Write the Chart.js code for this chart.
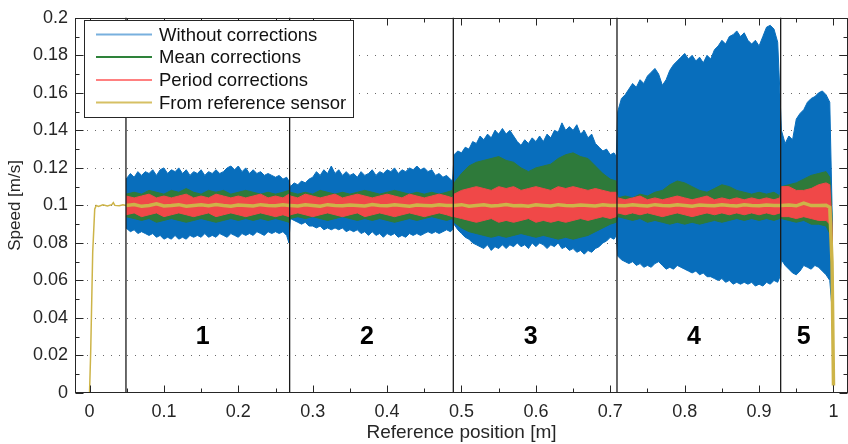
<!DOCTYPE html>
<html><head><meta charset="utf-8">
<script src="https://cdn.jsdelivr.net/npm/chart.js@4.4.1/dist/chart.umd.min.js"></script>
<style>html,body{margin:0;padding:0;background:#fff}canvas{display:block}</style>
</head><body>
<canvas id="c" width="848" height="444"></canvas>
<script>
// ---------- data ----------
// "Without corrections" envelope (upper / lower), sampled along the reference position
const blueX = [
  0.049,0.055,0.06,0.065,0.07,0.075,0.08,0.085,0.09,0.095,0.1,0.105,0.11,0.115,0.12,0.125,0.13,0.135,0.14,0.145,0.15,0.155,0.16,0.165,0.17,0.175,0.18,0.185,0.19,0.195,0.2,0.205,0.21,0.215,0.22,0.225,0.23,0.235,0.24,0.245,0.25,0.255,0.26,0.265,0.268,
  0.27,0.275,0.28,0.285,0.29,0.295,0.3,0.305,0.31,0.315,0.32,0.325,0.33,0.335,0.34,0.345,0.35,0.355,0.36,0.365,0.37,0.375,0.38,0.385,0.39,0.395,0.4,0.405,0.41,0.415,0.42,0.425,0.43,0.435,0.44,0.445,0.45,0.455,0.46,0.465,0.47,0.475,0.48,0.485,0.488,
  0.49,0.495,0.5,0.505,0.51,0.515,0.52,0.525,0.53,0.535,0.54,0.545,0.55,0.555,0.56,0.565,0.57,0.575,0.58,0.585,0.59,0.595,0.6,0.605,0.61,0.615,0.62,0.625,0.63,0.635,0.64,0.645,0.65,0.655,0.66,0.665,0.67,0.675,0.68,0.685,0.69,0.695,0.7,0.705,0.708,
  0.71,0.715,0.72,0.725,0.73,0.735,0.74,0.745,0.75,0.755,0.76,0.765,0.77,0.775,0.78,0.785,0.79,0.795,0.8,0.805,0.81,0.815,0.82,0.825,0.83,0.835,0.84,0.845,0.85,0.855,0.86,0.865,0.87,0.875,0.88,0.885,0.89,0.895,0.9,0.905,0.91,0.915,0.92,0.925,0.928,
  0.93,0.935,0.94,0.945,0.95,0.955,0.96,0.965,0.97,0.975,0.98,0.985,0.99,0.995,0.998,1.0
];
const blueHigh = [
  0.114,0.117,0.115,0.118,0.116,0.118,0.117,0.119,0.116,0.119,0.120,0.117,0.119,0.118,0.120,0.117,0.119,0.116,0.118,0.117,0.119,0.116,0.118,0.117,0.119,0.117,0.118,0.120,0.121,0.119,0.121,0.118,0.120,0.117,0.119,0.117,0.118,0.116,0.117,0.116,0.115,0.116,0.114,0.115,0.113,
  0.110,0.112,0.111,0.113,0.112,0.114,0.115,0.118,0.116,0.119,0.117,0.121,0.117,0.119,0.116,0.118,0.116,0.117,0.115,0.118,0.116,0.117,0.119,0.116,0.118,0.117,0.119,0.118,0.120,0.117,0.119,0.118,0.120,0.119,0.121,0.119,0.120,0.118,0.119,0.116,0.117,0.115,0.116,0.114,0.113,
  0.127,0.129,0.128,0.131,0.130,0.134,0.133,0.137,0.135,0.138,0.136,0.140,0.138,0.141,0.138,0.140,0.137,0.134,0.132,0.135,0.133,0.136,0.134,0.137,0.134,0.138,0.136,0.140,0.139,0.144,0.140,0.142,0.140,0.143,0.138,0.140,0.136,0.138,0.133,0.131,0.129,0.130,0.127,0.128,0.126,
  0.150,0.157,0.159,0.162,0.165,0.163,0.167,0.165,0.169,0.171,0.173,0.170,0.164,0.167,0.172,0.175,0.177,0.179,0.181,0.178,0.180,0.177,0.179,0.176,0.180,0.178,0.183,0.185,0.188,0.186,0.190,0.191,0.193,0.190,0.192,0.188,0.186,0.188,0.185,0.190,0.195,0.196,0.194,0.187,0.160,
  0.140,0.133,0.137,0.135,0.146,0.149,0.151,0.155,0.157,0.158,0.160,0.161,0.159,0.155,0.100,0.010
];
const blueLow = [
  0.088,0.086,0.087,0.085,0.086,0.085,0.084,0.085,0.083,0.084,0.082,0.083,0.082,0.084,0.082,0.083,0.082,0.084,0.083,0.084,0.083,0.085,0.083,0.084,0.083,0.085,0.084,0.083,0.085,0.084,0.083,0.085,0.084,0.085,0.084,0.086,0.085,0.084,0.086,0.085,0.086,0.085,0.086,0.084,0.080,
  0.093,0.092,0.091,0.090,0.091,0.089,0.089,0.088,0.089,0.087,0.088,0.087,0.088,0.087,0.088,0.086,0.087,0.086,0.087,0.085,0.086,0.084,0.086,0.084,0.085,0.083,0.085,0.084,0.085,0.083,0.084,0.083,0.085,0.084,0.085,0.084,0.085,0.086,0.085,0.086,0.085,0.086,0.087,0.086,0.087,
  0.090,0.087,0.085,0.083,0.082,0.080,0.079,0.078,0.077,0.079,0.076,0.078,0.077,0.079,0.077,0.079,0.078,0.080,0.078,0.079,0.077,0.080,0.078,0.080,0.079,0.077,0.079,0.078,0.080,0.077,0.078,0.076,0.077,0.075,0.076,0.074,0.076,0.075,0.077,0.078,0.080,0.081,0.083,0.082,0.084,
  0.073,0.071,0.070,0.069,0.070,0.068,0.069,0.067,0.068,0.067,0.069,0.070,0.068,0.066,0.067,0.066,0.068,0.067,0.066,0.065,0.064,0.065,0.063,0.064,0.062,0.062,0.061,0.060,0.061,0.059,0.060,0.058,0.059,0.058,0.059,0.058,0.059,0.057,0.058,0.057,0.059,0.058,0.060,0.059,0.062,
  0.071,0.068,0.066,0.064,0.063,0.065,0.068,0.067,0.066,0.068,0.067,0.065,0.063,0.060,0.045,0.003
];

// Mean / period corrections and reference sensor, sampled every 0.01 m
const coreX = [
  0.049,0.06,0.07,0.08,0.09,0.1,0.11,0.12,0.13,0.14,0.15,0.16,0.17,0.18,0.19,0.2,0.21,0.22,0.23,0.24,0.25,0.26,0.268,
  0.27,0.28,0.29,0.3,0.31,0.32,0.33,0.34,0.35,0.36,0.37,0.38,0.39,0.4,0.41,0.42,0.43,0.44,0.45,0.46,0.47,0.48,0.488,
  0.49,0.5,0.51,0.52,0.53,0.54,0.55,0.56,0.57,0.58,0.59,0.6,0.61,0.62,0.63,0.64,0.65,0.66,0.67,0.68,0.69,0.7,0.708,
  0.71,0.72,0.73,0.74,0.75,0.76,0.77,0.78,0.79,0.8,0.81,0.82,0.83,0.84,0.85,0.86,0.87,0.88,0.89,0.9,0.91,0.92,0.928,
  0.93,0.94,0.95,0.96,0.97,0.98,0.99,0.995,0.998,1.0
];
const greenHigh = [
  0.106,0.107,0.106,0.108,0.107,0.106,0.108,0.107,0.109,0.107,0.106,0.108,0.107,0.108,0.106,0.107,0.108,0.107,0.106,0.107,0.106,0.107,0.108,
  0.107,0.106,0.107,0.106,0.108,0.107,0.106,0.107,0.106,0.107,0.108,0.107,0.106,0.107,0.108,0.107,0.106,0.107,0.106,0.107,0.106,0.107,0.108,
  0.112,0.117,0.121,0.123,0.124,0.125,0.126,0.124,0.123,0.120,0.118,0.120,0.121,0.122,0.125,0.127,0.128,0.126,0.125,0.121,0.117,0.114,0.113,
  0.104,0.105,0.104,0.106,0.105,0.107,0.108,0.111,0.113,0.112,0.110,0.108,0.107,0.109,0.111,0.110,0.108,0.107,0.106,0.107,0.106,0.107,0.105,
  0.110,0.111,0.112,0.114,0.116,0.117,0.118,0.115,0.095,0.010
];
const greenLow = [
  0.094,0.093,0.092,0.093,0.091,0.092,0.093,0.092,0.091,0.092,0.093,0.092,0.091,0.092,0.093,0.092,0.093,0.092,0.093,0.092,0.093,0.092,0.091,
  0.093,0.094,0.093,0.094,0.093,0.092,0.093,0.094,0.093,0.092,0.093,0.092,0.093,0.092,0.091,0.092,0.093,0.092,0.093,0.094,0.093,0.092,0.093,
  0.091,0.088,0.086,0.085,0.084,0.083,0.084,0.083,0.084,0.085,0.084,0.083,0.084,0.083,0.082,0.083,0.082,0.083,0.084,0.086,0.088,0.090,0.091,
  0.094,0.093,0.092,0.093,0.091,0.092,0.091,0.090,0.091,0.090,0.091,0.090,0.091,0.092,0.091,0.092,0.093,0.092,0.093,0.092,0.093,0.092,0.093,
  0.093,0.092,0.091,0.092,0.090,0.090,0.089,0.085,0.060,0.004
];
const redHigh = [
  0.105,0.104,0.105,0.106,0.104,0.105,0.104,0.105,0.106,0.104,0.105,0.104,0.106,0.105,0.104,0.105,0.104,0.105,0.106,0.104,0.105,0.104,0.106,
  0.105,0.104,0.106,0.105,0.104,0.105,0.106,0.104,0.105,0.106,0.105,0.104,0.105,0.106,0.105,0.104,0.106,0.105,0.104,0.105,0.106,0.105,0.104,
  0.106,0.108,0.109,0.110,0.109,0.108,0.110,0.109,0.110,0.108,0.109,0.110,0.109,0.108,0.110,0.109,0.110,0.109,0.108,0.109,0.108,0.107,0.107,
  0.104,0.103,0.104,0.105,0.103,0.104,0.103,0.104,0.105,0.104,0.103,0.104,0.105,0.103,0.104,0.103,0.104,0.103,0.104,0.103,0.104,0.103,0.104,
  0.110,0.110,0.108,0.108,0.109,0.111,0.112,0.111,0.090,0.008
];
const redLow = [
  0.095,0.096,0.094,0.095,0.096,0.094,0.095,0.096,0.095,0.094,0.095,0.096,0.094,0.095,0.096,0.095,0.094,0.095,0.096,0.095,0.094,0.095,0.094,
  0.095,0.096,0.095,0.094,0.095,0.096,0.095,0.094,0.095,0.096,0.094,0.095,0.096,0.095,0.094,0.095,0.096,0.095,0.094,0.095,0.096,0.095,0.094,
  0.094,0.093,0.092,0.091,0.092,0.093,0.091,0.092,0.091,0.092,0.093,0.091,0.092,0.091,0.092,0.091,0.092,0.093,0.092,0.093,0.094,0.093,0.094,
  0.096,0.095,0.096,0.095,0.096,0.095,0.094,0.095,0.096,0.095,0.094,0.095,0.096,0.095,0.096,0.095,0.096,0.095,0.096,0.095,0.096,0.095,0.096,
  0.094,0.094,0.093,0.094,0.093,0.092,0.092,0.090,0.065,0.004
];
const refY = [
  0.1,0.1005,0.0995,0.1,0.1008,0.0997,0.1,0.1004,0.0996,0.1,0.1003,0.0998,0.1005,0.1,0.0996,0.1002,0.1,0.0997,0.1004,0.1,0.0998,0.1003,0.1,
  0.1,0.0997,0.1003,0.1,0.0996,0.1004,0.1,0.0998,0.1002,0.1,0.0997,0.1005,0.1,0.0998,0.1003,0.1,0.0996,0.1002,0.1,0.0998,0.1004,0.1,0.0999,
  0.1,0.1004,0.0996,0.1,0.1003,0.0997,0.1,0.1005,0.0998,0.1,0.0996,0.1003,0.1,0.0997,0.1004,0.1,0.0998,0.1002,0.1,0.0997,0.1003,0.1,0.1,
  0.1,0.0998,0.1003,0.1,0.0997,0.1004,0.1,0.0998,0.1003,0.1,0.0996,0.1002,0.1,0.0998,0.1004,0.1,0.0997,0.1003,0.1,0.0998,0.1002,0.1,0.1,
  0.1,0.1002,0.0998,0.1012,0.0999,0.1,0.1001,0.099,0.07,0.004
];
// reference sensor during the start-up (before section 1)
const startX = [0,0.0016,0.0043,0.007,0.009,0.012,0.018,0.024,0.03,0.032,0.034,0.04,0.045,0.049];
const startY = [0,0.022,0.075,0.098,0.1,0.0995,0.1003,0.0997,0.1004,0.1015,0.1,0.0998,0.1003,0.1];

// axes, sections, legend
const xTicks = [0,0.1,0.2,0.3,0.4,0.5,0.6,0.7,0.8,0.9,1];
const xMinorTicks = [0.05,0.15,0.25,0.35,0.45,0.55,0.65,0.75,0.85,0.95];
const yTicks = [0,0.02,0.04,0.06,0.08,0.1,0.12,0.14,0.16,0.18,0.2];
const yMinorTicks = [0.01,0.03,0.05,0.07,0.09,0.11,0.13,0.15,0.17,0.19];
const sectionEdges = [0.049,0.269,0.489,0.709,0.929];
const sectionNames = ['1','2','3','4','5'];
const sectionLabelX = [0.152,0.373,0.593,0.8125,0.960];
const sectionLabelY = 0.03;
const legendNames = ['Without corrections','Mean corrections','Period corrections','From reference sensor'];

// ---------- styling ----------
const FONT = '"Liberation Sans", Arial, Helvetica, sans-serif';
const BLUE = 'rgb(8,110,188)';
const GREEN = 'rgb(46,122,58)';
const RED = 'rgb(240,72,72)';
const YEL = 'rgb(205,180,72)';
const legendColors = ['rgb(120,176,222)','rgb(46,130,58)','rgb(255,128,128)','rgb(214,192,100)'];
const AXIS = '#262626';

function pts(xs, ys) { return xs.map((x, i) => ({x: x, y: ys[i]})); }

const decor = {
  id: 'decor',
  beforeDatasetsDraw(chart) {
    const {ctx, chartArea: a, scales: {y}} = chart;
    ctx.save();
    ctx.strokeStyle = '#6a6a6a';
    ctx.lineWidth = 1;
    ctx.setLineDash([1, 7]);
    yTicks.forEach(v => {
      if (v <= 0 || v >= 0.2) return;
      const py = Math.round(y.getPixelForValue(v)) + 0.5;
      ctx.beginPath(); ctx.moveTo(a.left + 4, py); ctx.lineTo(a.right, py); ctx.stroke();
    });
    ctx.restore();
  },
  afterDatasetsDraw(chart) {
    const {ctx, chartArea: a, scales: {x, y}} = chart;
    ctx.save();
    // section boundaries
    ctx.strokeStyle = '#1a1a1a';
    ctx.lineWidth = 1.3;
    sectionEdges.forEach(v => {
      const px = x.getPixelForValue(v);
      ctx.beginPath(); ctx.moveTo(px, a.top); ctx.lineTo(px, a.bottom); ctx.stroke();
    });
    // section numbers
    ctx.fillStyle = '#000';
    ctx.font = 'bold 25px ' + FONT;
    ctx.textAlign = 'center';
    ctx.textBaseline = 'middle';
    sectionNames.forEach((t, i) => {
      ctx.fillText(t, x.getPixelForValue(sectionLabelX[i]), y.getPixelForValue(sectionLabelY));
    });
    // axes box
    ctx.strokeStyle = AXIS;
    ctx.lineWidth = 1;
    ctx.strokeRect(Math.round(a.left) + 0.5, Math.round(a.top) + 0.5, a.right - a.left - 1, Math.round(a.bottom - a.top) - 1);
    // inward ticks on all four sides
    const tick = (x1, y1, x2, y2) => { ctx.beginPath(); ctx.moveTo(x1, y1); ctx.lineTo(x2, y2); ctx.stroke(); };
    const B = Math.round(a.bottom) - 0.5, T = Math.round(a.top) + 0.5, L = Math.round(a.left) + 0.5, R = a.right - 0.5;
    xTicks.forEach(v => { const p = Math.round(x.getPixelForValue(v)) + 0.5; tick(p, B, p, B - 7); tick(p, T, p, T + 7); });
    xMinorTicks.forEach(v => { const p = Math.round(x.getPixelForValue(v)) + 0.5; tick(p, B, p, B - 4); tick(p, T, p, T + 4); });
    yTicks.forEach(v => { const p = Math.round(y.getPixelForValue(v)) + 0.5; tick(L, p, L + 8, p); tick(R, p, R - 8, p); });
    yMinorTicks.forEach(v => { const p = Math.round(y.getPixelForValue(v)) + 0.5; tick(L, p, L + 4, p); tick(R, p, R - 4, p); });
    // legend
    const lx = 84.5, ly = 20.5, lw = 269, lh = 97;
    ctx.fillStyle = '#fff';
    ctx.fillRect(lx, ly, lw, lh);
    ctx.strokeStyle = AXIS;
    ctx.strokeRect(lx, ly, lw, lh);
    const rows = [34.5, 57, 80, 102.5];
    ctx.font = '18.5px ' + FONT;
    ctx.textAlign = 'left';
    ctx.textBaseline = 'middle';
    legendNames.forEach((n, i) => {
      ctx.strokeStyle = legendColors[i];
      ctx.lineWidth = 2;
      tick(96, rows[i], 152, rows[i]);
      ctx.fillStyle = '#111';
      ctx.fillText(n, 159, rows[i] + 1);
    });
    ctx.restore();
  }
};

Chart.defaults.font.family = FONT;

new Chart(document.getElementById('c'), {
  type: 'line',
  data: {
    datasets: [
      {data: pts(blueX, blueHigh), borderColor: BLUE, backgroundColor: BLUE, borderWidth: 1, fill: '+1', order: 3},
      {data: pts(blueX, blueLow), borderColor: BLUE, borderWidth: 1, fill: false, order: 3},
      {data: pts(coreX, greenHigh), borderColor: GREEN, backgroundColor: GREEN, borderWidth: 1, fill: '+1', order: 2},
      {data: pts(coreX, greenLow), borderColor: GREEN, borderWidth: 1, fill: false, order: 2},
      {data: pts(coreX, redHigh), borderColor: RED, backgroundColor: RED, borderWidth: 1, fill: '+1', order: 1},
      {data: pts(coreX, redLow), borderColor: RED, borderWidth: 1, fill: false, order: 1},
      {data: pts(coreX, refY), borderColor: YEL, borderWidth: 3.5, fill: false, order: 0},
      {data: pts(startX, startY), borderColor: YEL, borderWidth: 1.5, fill: false, order: 0}
    ]
  },
  options: {
    responsive: false,
    animation: false,
    devicePixelRatio: 1,
    elements: {point: {radius: 0, hoverRadius: 0}, line: {tension: 0}},
    layout: {padding: {top: 10, right: 0, bottom: 0, left: 0}},
    plugins: {legend: {display: false}, tooltip: {enabled: false}},
    events: [],
    scales: {
      x: {
        type: 'linear', min: -0.0195, max: 1.0195,
        afterBuildTicks: s => { s.ticks = xTicks.map(v => ({value: v})); },
        afterFit: s => { s.height = 51; },
        grid: {display: false, drawTicks: false},
        border: {display: false},
        ticks: {autoSkip: false, maxRotation: 0, padding: 8, color: AXIS, font: {size: 18}, callback: v => String(v)},
        title: {display: true, text: 'Reference position [m]', color: AXIS, font: {size: 19}, padding: {top: 0, bottom: 0}}
      },
      y: {
        type: 'linear', min: 0, max: 0.2,
        afterBuildTicks: s => { s.ticks = yTicks.map(v => ({value: v})); },
        afterFit: s => { s.width = 75; },
        grid: {display: false, drawTicks: false},
        border: {display: false},
        ticks: {autoSkip: false, padding: 7, color: AXIS, font: {size: 18}, callback: v => String(v)},
        title: {display: true, text: 'Speed [m/s]', color: AXIS, font: {size: 17}, padding: {top: 5, bottom: 0}}
      }
    }
  },
  plugins: [decor]
});
</script>
</body></html>
